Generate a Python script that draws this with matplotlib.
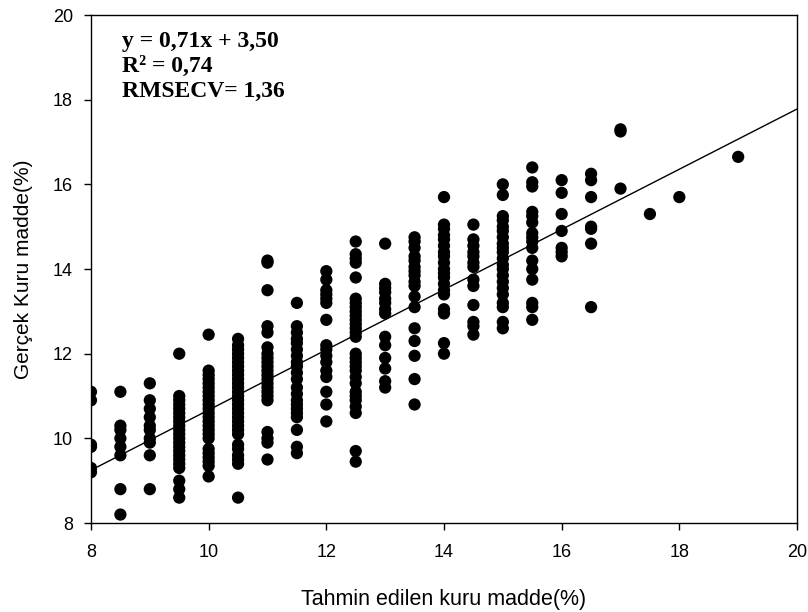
import matplotlib
matplotlib.use("Agg")
import matplotlib.pyplot as plt
import numpy as np

# --- Data: predicted (x) vs. measured (y) dry matter, one list per predicted value ---
columns = {
    8.0: [11.1, 10.9, 9.85, 9.8, 9.3, 9.2],
    8.5: [11.1, 10.3, 10.2, 10.0, 9.8, 9.6, 8.8, 8.2],
    9.0: [11.3, 10.9, 10.7, 10.5, 10.3, 10.2, 10.0, 9.9, 9.6, 8.8],
    9.5: [12.0, 11.0, 10.9, 10.8, 10.7, 10.6, 10.5, 10.4, 10.3, 10.2, 10.1,
          10.0, 9.9, 9.8, 9.7, 9.6, 9.5, 9.4, 9.3, 9.0, 8.8, 8.6],
    10.0: [12.45, 11.6, 11.5, 11.4, 11.3, 11.2, 11.1, 11.0, 10.9, 10.8, 10.7,
           10.6, 10.5, 10.4, 10.3, 10.2, 10.1, 10.0, 9.75, 9.65, 9.55, 9.45,
           9.35, 9.1],
    10.5: [12.35, 12.2, 12.1, 12.0, 11.9, 11.8, 11.7, 11.6, 11.5, 11.4, 11.3,
           11.2, 11.1, 11.0, 10.9, 10.8, 10.7, 10.6, 10.5, 10.4, 10.3, 10.2,
           10.1, 9.85, 9.75, 9.6, 9.5, 9.4, 8.6],
    11.0: [14.2, 14.15, 13.5, 12.65, 12.5, 12.15, 12.0, 11.9, 11.8, 11.7, 11.6,
           11.5, 11.4, 11.3, 11.2, 11.1, 11.0, 10.9, 10.15, 10.0, 9.9, 9.5],
    11.5: [13.2, 12.65, 12.5, 12.35, 12.25, 12.1, 11.95, 11.8, 11.7, 11.55,
           11.4, 11.2, 11.05, 10.9, 10.8, 10.7, 10.6, 10.5, 10.2, 9.8, 9.65],
    12.0: [13.95, 13.75, 13.5, 13.4, 13.3, 13.2, 12.8, 12.2, 12.1, 11.95, 11.8,
           11.6, 11.45, 11.1, 10.8, 10.4],
    12.5: [14.65, 14.35, 14.25, 14.15, 13.8, 13.3, 13.2, 13.1, 13.0, 12.9, 12.8,
           12.7, 12.6, 12.5, 12.4, 12.0, 11.9, 11.8, 11.7, 11.6, 11.45, 11.3,
           11.1, 11.0, 10.9, 10.75, 10.6, 9.7, 9.45],
    13.0: [14.6, 13.65, 13.55, 13.45, 13.3, 13.2, 13.05, 12.95, 12.4, 12.2,
           11.9, 11.65, 11.35, 11.2],
    13.5: [14.75, 14.65, 14.5, 14.3, 14.2, 14.05, 13.95, 13.85, 13.7, 13.6,
           13.35, 13.1, 12.6, 12.3, 11.95, 11.4, 10.8],
    14.0: [15.7, 15.05, 14.95, 14.8, 14.7, 14.55, 14.4, 14.3, 14.15, 14.0, 13.9,
           13.8, 13.65, 13.5, 13.4, 13.05, 12.95, 12.25, 12.0],
    14.5: [15.05, 14.7, 14.55, 14.4, 14.3, 14.15, 14.05, 13.75, 13.6, 13.15,
           12.75, 12.65, 12.45],
    15.0: [16.0, 15.75, 15.25, 15.15, 15.0, 14.9, 14.75, 14.6, 14.5, 14.4,
           14.25, 14.1, 14.0, 13.85, 13.7, 13.55, 13.4, 13.2, 13.1, 12.75, 12.6],
    15.5: [16.4, 16.05, 15.95, 15.35, 15.25, 15.1, 14.85, 14.75, 14.65, 14.5,
           14.2, 14.0, 13.75, 13.2, 13.1, 12.8],
    16.0: [16.1, 15.8, 15.3, 14.9, 14.5, 14.4, 14.3],
    16.5: [16.25, 16.1, 15.7, 15.0, 14.95, 14.6, 13.1],
    17.0: [17.3, 17.25, 15.9],
    17.5: [15.3],
    18.0: [15.7],
    19.0: [16.65],
}

# fitted line as drawn (the label shows the rounded equation)
slope = 0.711
intercept = 3.56
stats_text = "y = 0,71x + 3,50\nR² = 0,74\nRMSECV= 1,36"

x = np.concatenate([[k] * len(v) for k, v in columns.items()])
y = np.concatenate([v for v in columns.values()])

# --- Plot ---
fig = plt.figure(figsize=(8.08, 6.12), dpi=100)
ax = fig.add_axes([0.1126, 0.1454, 0.8738, 0.830])

ax.scatter(x, y, s=78, color="black", edgecolors="none", zorder=3)

xl = np.array([8, 20])
ax.plot(xl, slope * xl + intercept, color="black", lw=1.0, zorder=2)

ax.set_xlim(8, 20)
ax.set_ylim(8, 20)
ax.set_xticks(np.arange(8, 21, 2))
ax.set_yticks(np.arange(8, 21, 2))
ax.tick_params(direction="out", length=5, width=1, labelsize=13,
               top=False, right=False)
ax.tick_params(axis="x", pad=10)
ax.tick_params(axis="y", pad=8)
for lab in ax.get_xticklabels() + ax.get_yticklabels():
    lab.set_fontfamily("Liberation Sans")

ax.set_xlabel("Tahmin edilen kuru madde(%)", fontsize=15.5,
              family="Liberation Sans", labelpad=20)
ax.set_ylabel("Gerçek Kuru madde(%)", fontsize=15,
              family="Liberation Sans", labelpad=14)

ax.text(0.044, 0.968, stats_text, transform=ax.transAxes, va="top", ha="left",
        fontsize=17, fontweight="bold", family="Liberation Serif",
        linespacing=1.25)

for s in ax.spines.values():
    s.set_linewidth(1.0)

fig.savefig("out.png", dpi=100)
